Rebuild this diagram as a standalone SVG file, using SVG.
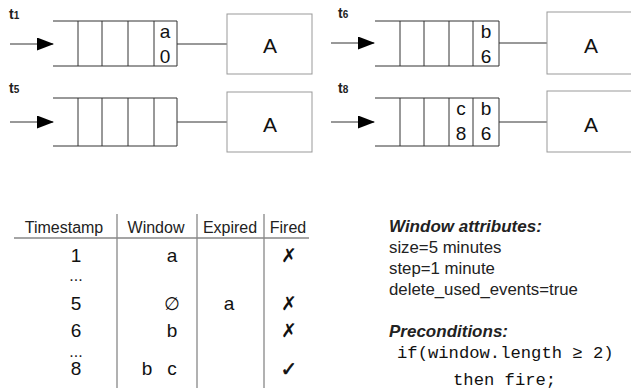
<svg xmlns="http://www.w3.org/2000/svg" width="631" height="390" viewBox="0 0 631 390">
<defs>
<marker id="ah" markerWidth="17" markerHeight="13" refX="16" refY="6.5" orient="auto" markerUnits="userSpaceOnUse">
<path d="M0,0 L17,6.5 L0,13 Z" fill="#000"/>
</marker>
<style>
.q{fill:none;stroke:#333;stroke-width:1}
.box{fill:#fff;stroke:#999;stroke-width:1}
.ln{stroke:#333;stroke-width:1;fill:none}
.tl{stroke:#888;stroke-width:1.3;fill:none}
.lbl{font-family:"Liberation Sans",Arial,sans-serif;font-weight:bold;font-size:14px;fill:#222}
.sub{font-size:10px}
.cell{font-family:"Liberation Sans",Arial,sans-serif;font-size:19px;fill:#111;text-anchor:middle}
.big{font-family:"Liberation Sans",Arial,sans-serif;font-size:21px;fill:#111;text-anchor:middle}
.th{font-family:"Liberation Sans",Arial,sans-serif;font-size:16px;fill:#222;text-anchor:middle}
.td{font-family:"Liberation Sans",Arial,sans-serif;font-size:19px;fill:#111;text-anchor:middle}
.sym{font-family:"DejaVu Sans",sans-serif;font-size:18px;fill:#111;text-anchor:middle}
.mk{font-family:"DejaVu Sans",sans-serif;font-size:19px;font-weight:bold;fill:#111;text-anchor:middle}
.ck{font-family:"DejaVu Sans",sans-serif;font-size:20px;font-weight:bold;fill:#111;stroke:#111;stroke-width:0.6;text-anchor:middle}
.hd{font-family:"Liberation Sans",Arial,sans-serif;font-size:17px;font-weight:bold;font-style:italic;fill:#222}
.at{font-family:"Liberation Sans",Arial,sans-serif;font-size:16.8px;fill:#222}
.mono{font-family:"Liberation Mono","Courier New",monospace;font-size:17.2px;fill:#111}
</style>
</defs>

<g id="connectors">
<line class="ln" x1="10" y1="44" x2="53" y2="44" marker-end="url(#ah)"/>
<line class="ln" x1="177" y1="44" x2="227" y2="44"/>
<line class="ln" x1="10" y1="122" x2="53" y2="122" marker-end="url(#ah)"/>
<line class="ln" x1="177" y1="122" x2="227" y2="122"/>
<line class="ln" x1="331" y1="43" x2="374" y2="43" marker-end="url(#ah)"/>
<line class="ln" x1="499" y1="43" x2="547" y2="43"/>
<line class="ln" x1="331" y1="122" x2="374" y2="122" marker-end="url(#ah)"/>
<line class="ln" x1="499" y1="122" x2="547" y2="122"/>
</g>

<g id="panel-t1">
<text class="lbl" x="9" y="19">t<tspan class="sub">1</tspan></text>
<path class="q" d="M53,21 H177 V66 H53 M78,21 V66 M102,21 V66 M128,21 V66 M154,21 V66"/>
<text class="cell" x="165" y="38">a</text>
<text class="cell" x="165" y="63">0</text>
</g>
<g id="node-A1"><rect class="box" x="227" y="14" width="85" height="60"/><text class="big" x="270" y="53">A</text></g>

<g id="panel-t5">
<text class="lbl" x="9" y="93">t<tspan class="sub">5</tspan></text>
<path class="q" d="M53,98 H177 V146 H53 M78,98 V146 M102,98 V146 M128,98 V146 M154,98 V146"/>
</g>
<g id="node-A2"><rect class="box" x="227" y="92" width="85" height="60"/><text class="big" x="270" y="132">A</text></g>

<g id="panel-t6">
<text class="lbl" x="338" y="18">t<tspan class="sub">6</tspan></text>
<path class="q" d="M375,21 H499 V66 H375 M400,21 V66 M424,21 V66 M449,21 V66 M473,21 V66"/>
<text class="cell" x="486" y="38">b</text>
<text class="cell" x="486" y="63">6</text>
</g>
<g id="node-A3"><rect class="box" x="547" y="12" width="90" height="62"/><text class="big" x="591" y="53">A</text></g>

<g id="panel-t8">
<text class="lbl" x="338" y="93">t<tspan class="sub">8</tspan></text>
<path class="q" d="M375,98 H499 V146 H375 M400,98 V146 M424,98 V146 M449,98 V146 M473,98 V146"/>
<text class="cell" x="461" y="115">c</text>
<text class="cell" x="461" y="140">8</text>
<text class="cell" x="486" y="115">b</text>
<text class="cell" x="486" y="140">6</text>
</g>
<g id="node-A4"><rect class="box" x="547" y="91" width="90" height="61"/><text class="big" x="591" y="132">A</text></g>

<g id="table">
<path class="tl" d="M14,238 H309 M117,214 V388 M197,214 V388 M264,214 V388"/>
<text class="th" x="64" y="233">Timestamp</text>
<text class="th" x="156" y="233">Window</text>
<text class="th" x="230" y="233">Expired</text>
<text class="th" x="288" y="233">Fired</text>
<text class="td" x="76" y="262">1</text>
<text class="th" x="76" y="281">...</text>
<text class="td" x="76" y="310">5</text>
<text class="td" x="76" y="337">6</text>
<text class="th" x="76" y="357">...</text>
<text class="td" x="76" y="375">8</text>
<text class="td" x="172" y="262">a</text>
<text class="sym" x="172" y="310">∅</text>
<text class="td" x="172" y="337">b</text>
<text class="td" x="147" y="375">b</text>
<text class="td" x="172" y="375">c</text>
<text class="td" x="229" y="310">a</text>
<text class="mk" x="289" y="262">✗</text>
<text class="mk" x="289" y="310">✗</text>
<text class="mk" x="289" y="337">✗</text>
<text class="ck" x="289" y="376">✓</text>
</g>

<g id="notes">
<text class="hd" x="389" y="232">Window attributes:</text>
<text class="at" x="389" y="253">size=5 minutes</text>
<text class="at" x="389" y="274">step=1 minute</text>
<text class="at" x="389" y="295">delete_used_events=true</text>
<text class="hd" x="389" y="337">Preconditions:</text>
<text class="mono" x="397" y="358">if(window.length ≥ 2)</text>
<text class="mono" x="453" y="385">then fire;</text>
</g>
</svg>
